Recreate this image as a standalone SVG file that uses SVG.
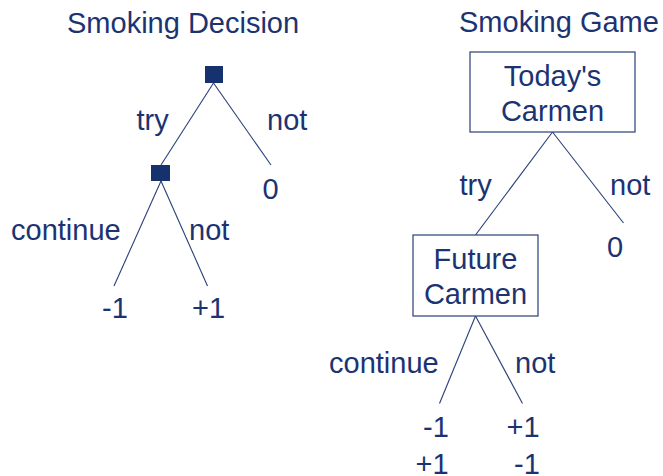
<svg xmlns="http://www.w3.org/2000/svg" width="663" height="476" viewBox="0 0 663 476">
<style>
text{font-family:"Liberation Sans",Arial,sans-serif;font-size:29px;fill:#1c3372}
.mid{text-anchor:middle}
.box{fill:#fff;stroke:#2a3f78;stroke-width:1.2}
.sq{fill:#15316e}
#connectors line{stroke:#2a3f78;stroke-width:1.1}
</style>
<rect width="663" height="476" fill="#fff"/>
<text x="67" y="33">Smoking Decision</text>
<text x="459" y="32">Smoking Game</text>
<g id="connectors">
<line x1="213.5" y1="83" x2="161" y2="165"/>
<line x1="213.5" y1="83" x2="271" y2="165"/>
<line x1="161" y1="181" x2="114" y2="286"/>
<line x1="161" y1="181" x2="207.5" y2="286"/>
<line x1="552.5" y1="132" x2="475.5" y2="235"/>
<line x1="552.5" y1="132" x2="623.5" y2="223"/>
<line x1="475.5" y1="316" x2="439.5" y2="403.5"/>
<line x1="475.5" y1="316" x2="522.5" y2="403.5"/>
</g>
<g id="decision1"><rect class="sq" x="205" y="66" width="18" height="17"/></g>
<g id="decision2"><rect class="sq" x="151" y="165" width="19" height="16"/></g>
<g id="todays-carmen"><rect class="box" x="470" y="52" width="165" height="80"/>
<text class="mid" x="552.5" y="86">Today's</text><text class="mid" x="552.5" y="121">Carmen</text></g>
<g id="future-carmen"><rect class="box" x="413" y="235" width="125" height="81"/>
<text class="mid" x="475.5" y="269">Future</text><text class="mid" x="475.5" y="304">Carmen</text></g>
<g id="labels">
<text x="136.5" y="130">try</text>
<text x="267" y="130">not</text>
<text class="mid" x="270.5" y="199">0</text>
<text x="11" y="240">continue</text>
<text x="189" y="240">not</text>
<text x="102" y="318">-1</text>
<text x="192" y="318">+1</text>
<text x="459.5" y="195">try</text>
<text x="610" y="195">not</text>
<text class="mid" x="615" y="257">0</text>
<text x="329" y="373">continue</text>
<text x="515" y="373">not</text>
<text x="423" y="437">-1</text>
<text x="506.5" y="437">+1</text>
<text x="415.5" y="474">+1</text>
<text x="514" y="474">-1</text>
</g>
</svg>
